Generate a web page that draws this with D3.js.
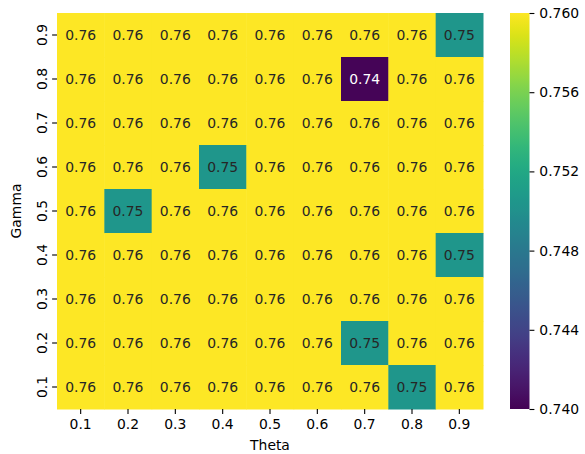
<!DOCTYPE html>
<html>
<head>
<meta charset="utf-8">
<script src="https://cdn.jsdelivr.net/npm/d3@7"></script>
<style>
  body { margin: 0; background: #fff; }
  text { font-family: "DejaVu Sans", sans-serif; }
</style>
</head>
<body>
<svg id="chart" width="585" height="454"></svg>
<script>
  // axis categories
  var thetas = ['0.1', '0.2', '0.3', '0.4', '0.5', '0.6', '0.7', '0.8', '0.9'];
  var gammas = ['0.9', '0.8', '0.7', '0.6', '0.5', '0.4', '0.3', '0.2', '0.1'];

  // scores, one row per gamma (top to bottom), columns by theta
  var scores = [
    [0.7605, 0.7605, 0.7605, 0.7605, 0.7605, 0.7605, 0.7605, 0.7605, 0.7505],
    [0.7605, 0.7605, 0.7605, 0.7605, 0.7605, 0.7605, 0.7402, 0.7605, 0.7605],
    [0.7605, 0.7605, 0.7605, 0.7605, 0.7605, 0.7605, 0.7605, 0.7605, 0.7605],
    [0.7605, 0.7605, 0.7605, 0.7505, 0.7605, 0.7605, 0.7605, 0.7605, 0.7605],
    [0.7605, 0.7505, 0.7605, 0.7605, 0.7605, 0.7605, 0.7605, 0.7605, 0.7605],
    [0.7605, 0.7605, 0.7605, 0.7605, 0.7605, 0.7605, 0.7605, 0.7605, 0.7505],
    [0.7605, 0.7605, 0.7605, 0.7605, 0.7605, 0.7605, 0.7605, 0.7605, 0.7605],
    [0.7605, 0.7605, 0.7605, 0.7605, 0.7605, 0.7605, 0.7505, 0.7605, 0.7605],
    [0.7605, 0.7605, 0.7605, 0.7605, 0.7605, 0.7605, 0.7605, 0.7505, 0.7605]
  ];

  var cbarTicks = [0.740, 0.744, 0.748, 0.752, 0.756, 0.760];
  var vmin = 0.740, vmax = 0.760;

  var svg = d3.select('#chart');
  var fontSize = 13.9;
  var tickLen = 4.9;

  var plotL = 57, plotR = 483, plotT = 13, plotB = 409;

  var x = d3.scaleBand().domain(thetas).range([plotL, plotR]);
  var y = d3.scaleBand().domain(gammas).range([plotT, plotB]);
  var color = d3.scaleSequential(d3.interpolateViridis).domain([vmin, vmax]).clamp(true);

  var cells = [];
  scores.forEach(function (row, i) {
    row.forEach(function (v, j) {
      cells.push({ g: gammas[i], t: thetas[j], v: v });
    });
  });

  // cells
  svg.append('g').selectAll('rect')
    .data(cells)
    .enter().append('rect')
    .attr('x', function (d) { return x(d.t); })
    .attr('y', function (d) { return y(d.g); })
    .attr('width', x.bandwidth() + 0.5)
    .attr('height', y.bandwidth() + 0.5)
    .attr('fill', function (d) { return color(d.v); });

  // annotations
  svg.append('g').selectAll('text')
    .data(cells)
    .enter().append('text')
    .attr('x', function (d) { return x(d.t) + x.bandwidth() / 2; })
    .attr('y', function (d) { return y(d.g) + y.bandwidth() / 2; })
    .attr('dy', '0.36em')
    .attr('text-anchor', 'middle')
    .style('font-size', fontSize + 'px')
    .attr('fill', function (d) {
      var c = d3.rgb(color(d.v));
      var lum = 0.2126 * c.r / 255 + 0.7152 * c.g / 255 + 0.0722 * c.b / 255;
      return lum < 0.408 ? '#ffffff' : '#262626';
    })
    .text(function (d) { return d.v.toFixed(2); });

  // x axis
  var xAxis = svg.append('g')
    .attr('transform', 'translate(0,' + plotB + ')')
    .call(d3.axisBottom(x).tickSize(tickLen).tickPadding(4.9));
  xAxis.select('.domain').remove();
  xAxis.selectAll('text').style('font-size', fontSize + 'px').style('font-family', 'DejaVu Sans').attr('fill', '#000');
  xAxis.selectAll('line').attr('stroke', '#000').attr('stroke-width', 1.1);

  // y axis
  var yAxis = svg.append('g')
    .attr('transform', 'translate(' + plotL + ',0)')
    .call(d3.axisLeft(y).tickSize(tickLen).tickPadding(4.9));
  yAxis.select('.domain').remove();
  yAxis.selectAll('line').attr('stroke', '#000').attr('stroke-width', 1.1);
  yAxis.selectAll('text')
    .style('font-size', fontSize + 'px').style('font-family', 'DejaVu Sans').attr('fill', '#000')
    .attr('x', null)
    .attr('text-anchor', 'middle')
    .attr('transform', 'translate(-15,0) rotate(-90)')
    .attr('y', 0)
    .attr('dy', '0.36em');

  svg.append('text')
    .attr('x', (plotL + plotR) / 2)
    .attr('y', 450)
    .attr('text-anchor', 'middle')
    .style('font-size', fontSize + 'px')
    .text('Theta');

  svg.append('text')
    .attr('transform', 'translate(21,' + (plotT + plotB) / 2 + ') rotate(-90)')
    .attr('text-anchor', 'middle')
    .style('font-size', fontSize + 'px')
    .text('Gamma');

  // colorbar
  var cbLeft = 510, cbWidth = 19.5;
  var cbScale = d3.scaleLinear().domain([vmin, vmax]).range([plotB, plotT]);

  var grad = svg.append('defs').append('linearGradient')
    .attr('id', 'cbgrad')
    .attr('x1', 0).attr('y1', 1).attr('x2', 0).attr('y2', 0);
  d3.range(0, 1.0001, 0.02).forEach(function (t) {
    grad.append('stop')
      .attr('offset', t)
      .attr('stop-color', d3.interpolateViridis(t));
  });

  svg.append('rect')
    .attr('x', cbLeft).attr('y', plotT)
    .attr('width', cbWidth).attr('height', plotB - plotT)
    .attr('fill', 'url(#cbgrad)');

  var cAxis = svg.append('g')
    .attr('transform', 'translate(' + (cbLeft + cbWidth) + ',0)')
    .call(d3.axisRight(cbScale).tickValues(cbarTicks).tickFormat(d3.format('.3f')).tickSize(tickLen).tickPadding(4.9));
  cAxis.select('.domain').remove();
  cAxis.selectAll('line').attr('stroke', '#000').attr('stroke-width', 1.1);
  cAxis.selectAll('text').style('font-size', fontSize + 'px').style('font-family', 'DejaVu Sans').attr('fill', '#000');
</script>
</body>
</html>
